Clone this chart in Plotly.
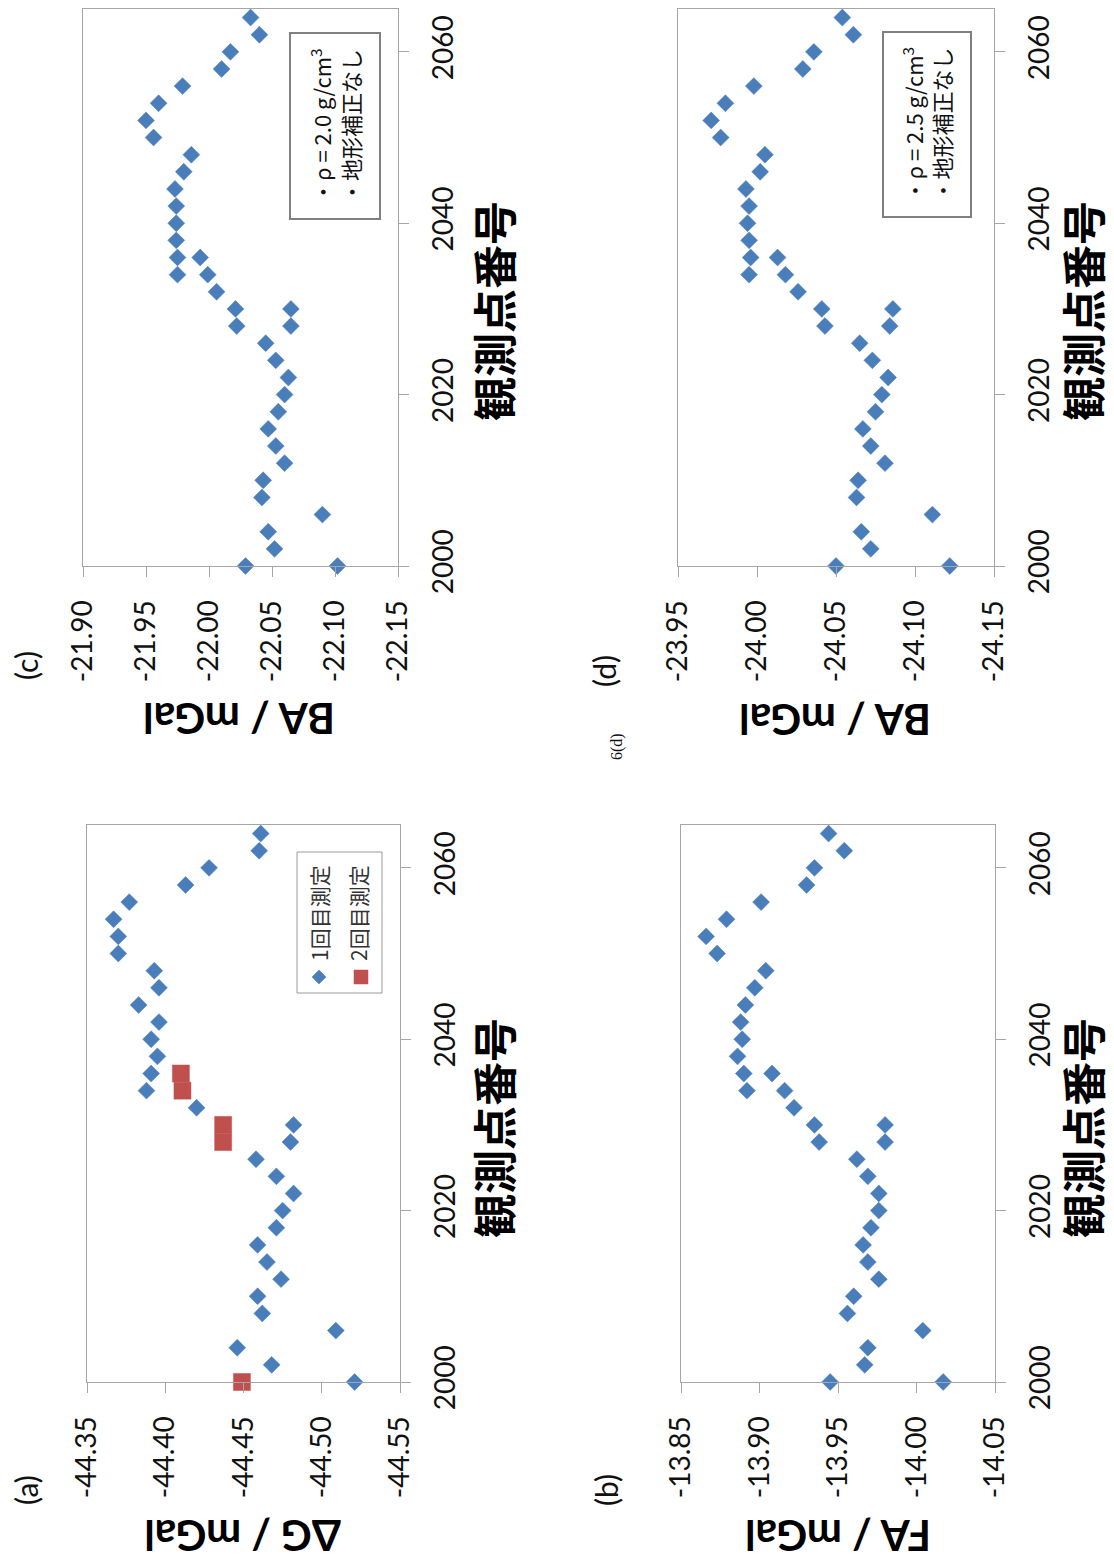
import plotly.graph_objects as go

# page body has an 8px margin; the figure is sized to fill the rest of the window
OFF = 8
W, H = 1114 - OFF, 1562 - OFF

# ---------------- data ----------------
stations_1 = [2000, 2002, 2004, 2006, 2008, 2010, 2012, 2014, 2016, 2018, 2020,
              2022, 2024, 2026, 2028, 2030, 2032, 2034, 2036, 2038, 2040, 2042,
              2044, 2046, 2048, 2050, 2052, 2054, 2056, 2058, 2060, 2062, 2064]
stations_2 = [2000, 2028, 2030, 2034, 2036]

dG_1 = [-44.521, -44.468, -44.446, -44.509, -44.462, -44.459, -44.474, -44.465,
        -44.459, -44.471, -44.475, -44.482, -44.471, -44.458, -44.480, -44.482,
        -44.420, -44.388, -44.391, -44.395, -44.391, -44.396, -44.383, -44.396,
        -44.393, -44.370, -44.370, -44.367, -44.377, -44.413, -44.428, -44.460,
        -44.461]
dG_2 = [-44.449, -44.437, -44.437, -44.411, -44.410]

FA_1 = [-14.017, -13.967, -13.969, -14.004, -13.956, -13.960, -13.976, -13.969,
        -13.966, -13.971, -13.976, -13.976, -13.969, -13.962, -13.980, -13.980,
        -13.922, -13.892, -13.890, -13.886, -13.889, -13.888, -13.891, -13.897,
        -13.904, -13.873, -13.866, -13.879, -13.901, -13.930, -13.935, -13.954,
        -13.944]
FA_2 = [-13.945, -13.938, -13.935, -13.916, -13.908]

BA20_1 = [-22.102, -22.052, -22.047, -22.090, -22.042, -22.043, -22.060, -22.053,
          -22.047, -22.055, -22.060, -22.063, -22.053, -22.045, -22.065, -22.065,
          -22.006, -21.975, -21.975, -21.974, -21.974, -21.974, -21.973, -21.980,
          -21.986, -21.956, -21.950, -21.960, -21.979, -22.010, -22.017, -22.040,
          -22.033]
BA20_2 = [-22.029, -22.022, -22.021, -21.999, -21.993]

BA25_1 = [-24.122, -24.072, -24.066, -24.111, -24.063, -24.064, -24.081, -24.072,
          -24.067, -24.075, -24.079, -24.083, -24.073, -24.065, -24.084, -24.086,
          -24.026, -23.995, -23.996, -23.995, -23.994, -23.995, -23.993, -24.002,
          -24.005, -23.977, -23.971, -23.980, -23.998, -24.029, -24.036, -24.061,
          -24.054]
BA25_2 = [-24.050, -24.043, -24.041, -24.018, -24.013]

station_ticks = [2000, 2020, 2040, 2060]
station_range = [2000, 2065]

dG_ticks = [-44.35, -44.40, -44.45, -44.50, -44.55]
dG_ticktext = ["-44.35", "-44.40", "-44.45", "-44.50", "-44.55"]
FA_ticks = [-13.85, -13.90, -13.95, -14.00, -14.05]
FA_ticktext = ["-13.85", "-13.90", "-13.95", "-14.00", "-14.05"]
BA20_ticks = [-21.90, -21.95, -22.00, -22.05, -22.10, -22.15]
BA20_ticktext = ["-21.90", "-21.95", "-22.00", "-22.05", "-22.10", "-22.15"]
BA25_ticks = [-23.95, -24.00, -24.05, -24.10, -24.15]
BA25_ticktext = ["-23.95", "-24.00", "-24.05", "-24.10", "-24.15"]

legend_labels = ["1回目測定", "2回目測定"]
xlabel = "観測点番号"

# ---------------- helpers (window pixel -> paper fraction) ----------------
def fx(px):
    return (px - OFF) / W


def fy(py):
    return 1 - (py - OFF) / H


BLUE = "#4a7ebb"
RED = "#c0504d"
AXC = "#a6a6a6"
TICKFONT = dict(family="Lato", size=28, color="#111")

panels = [
    dict(x=(87, 400), y=(825, 1382), v1=dG_1, v2=dG_2, c2=RED, s2="square",
         rng=[-44.35, -44.55], tv=dG_ticks, tt=dG_ticktext,
         title="ΔG / mGal", title_xy=(243, 1536), lab="(a)", lab_xy=(26, 1490),
         xl_xy=(493, 1128)),
    dict(x=(681, 995), y=(825, 1382), v1=FA_1, v2=FA_2, c2=BLUE, s2="diamond",
         rng=[-13.85, -14.05], tv=FA_ticks, tt=FA_ticktext,
         title="FA / mGal", title_xy=(838, 1536), lab="(b)", lab_xy=(606, 1490),
         xl_xy=(1082, 1128)),
    dict(x=(83, 398), y=(9, 566), v1=BA20_1, v2=BA20_2, c2=BLUE, s2="diamond",
         rng=[-21.90, -22.15], tv=BA20_ticks, tt=BA20_ticktext,
         title="BA / mGal", title_xy=(239, 719), lab="(c)", lab_xy=(26, 666),
         xl_xy=(493, 311)),
    dict(x=(678, 994), y=(9, 566), v1=BA25_1, v2=BA25_2, c2=BLUE, s2="diamond",
         rng=[-23.95, -24.15], tv=BA25_ticks, tt=BA25_ticktext,
         title="BA / mGal", title_xy=(835, 720), lab="(d)", lab_xy=(604, 671),
         xl_xy=(1082, 311)),
]

fig = go.Figure()
annotations = []
shapes = []

for i, p in enumerate(panels, start=1):
    xa = "x" if i == 1 else f"x{i}"
    ya = "y" if i == 1 else f"y{i}"
    fig.add_trace(go.Scatter(
        x=p["v1"], y=stations_1, mode="markers", xaxis=xa, yaxis=ya,
        marker=dict(symbol="diamond", size=13, color=BLUE,
                    line=dict(color=BLUE, width=0.5)),
        cliponaxis=False, showlegend=False, name=legend_labels[0]))
    fig.add_trace(go.Scatter(
        x=p["v2"], y=stations_2, mode="markers", xaxis=xa, yaxis=ya,
        marker=dict(symbol=p["s2"], size=17 if p["s2"] == "square" else 13,
                    color=p["c2"], line=dict(color=p["c2"], width=0.5)),
        cliponaxis=False, showlegend=False, name=legend_labels[1]))

    xkey = "xaxis" if i == 1 else f"xaxis{i}"
    ykey = "yaxis" if i == 1 else f"yaxis{i}"
    fig.update_layout({
        xkey: dict(domain=[fx(p["x"][0]), fx(p["x"][1])], range=p["rng"],
                   autorange=False, automargin=False, tickmode="array",
                   tickvals=p["tv"], ticktext=p["tt"], tickangle=-90,
                   ticks="outside", ticklen=10, tickcolor=AXC, showline=True,
                   linecolor=AXC, linewidth=1, mirror=True, showgrid=False,
                   zeroline=False, anchor=ya, tickfont=TICKFONT,
                   ticklabelstandoff=12, fixedrange=True),
        ykey: dict(domain=[fy(p["y"][1]), fy(p["y"][0])], range=station_range,
                   autorange=False, automargin=False, tickmode="array",
                   tickvals=station_ticks,
                   ticktext=[str(t) for t in station_ticks], tickangle=-90,
                   side="right", ticks="outside", ticklen=10, tickcolor=AXC,
                   showline=True, linecolor=AXC, linewidth=1, mirror=True,
                   showgrid=False, zeroline=False, anchor=xa, tickfont=TICKFONT,
                   ticklabelstandoff=10, fixedrange=True),
    })

    annotations.append(dict(
        x=fx(p["title_xy"][0]), y=fy(p["title_xy"][1]), xref="paper", yref="paper",
        text=p["title"], showarrow=False, textangle=180, xanchor="center",
        yanchor="middle",
        font=dict(family="Lato", size=42, color="#000", weight="bold")))
    annotations.append(dict(
        x=fx(p["xl_xy"][0]), y=fy(p["xl_xy"][1]), xref="paper", yref="paper",
        text=xlabel, showarrow=False, textangle=-90, xanchor="center",
        yanchor="middle",
        font=dict(family="Noto Sans CJK JP", size=44, color="#000", weight="bold")))
    annotations.append(dict(
        x=fx(p["lab_xy"][0]), y=fy(p["lab_xy"][1]), xref="paper", yref="paper",
        text=p["lab"], showarrow=False, textangle=-90, xanchor="center",
        yanchor="middle", font=dict(family="Lato", size=30, color="#111")))

# small caption
annotations.append(dict(
    x=fx(617), y=fy(747), xref="paper", yref="paper", text="6(d)",
    showarrow=False, textangle=-90, xanchor="center", yanchor="middle",
    font=dict(family="Liberation Serif", size=16, color="#111")))

# legend for (a)
shapes.append(dict(type="rect", xref="paper", yref="paper",
                   x0=fx(297), x1=fx(382), y0=fy(993), y1=fy(852),
                   line=dict(color="#9a9a9a", width=1), fillcolor="white"))
dx, dy = 7, 7
cx, cy = 319, 977
diamond_path = (f"M {fx(cx)} {fy(cy - dy)} L {fx(cx + dx)} {fy(cy)} "
                f"L {fx(cx)} {fy(cy + dy)} L {fx(cx - dx)} {fy(cy)} Z")
shapes.append(dict(type="path", xref="paper", yref="paper", path=diamond_path,
                   fillcolor=BLUE, line=dict(color=BLUE, width=0.5)))
shapes.append(dict(type="rect", xref="paper", yref="paper",
                   x0=fx(354), x1=fx(368), y0=fy(984), y1=fy(970),
                   fillcolor=RED, line=dict(color=RED, width=0.5)))
for lx, txt in zip([319, 358], legend_labels):
    annotations.append(dict(
        x=fx(lx), y=fy(913), xref="paper", yref="paper", text=txt,
        showarrow=False, textangle=-90, xanchor="center", yanchor="middle",
        font=dict(family="Noto Sans CJK JP", size=21, color="#333")))

# condition boxes for (c) and (d)
box_texts = ["・ρ = 2.0 g/cm<sup>3</sup><br>・地形補正なし",
             "・ρ = 2.5 g/cm<sup>3</sup><br>・地形補正なし"]
boxes = [(290, 380, 33, 219), (883, 971, 32, 217)]
for (x0, x1, y0, y1), txt in zip(boxes, box_texts):
    shapes.append(dict(type="rect", xref="paper", yref="paper",
                       x0=fx(x0), x1=fx(x1), y0=fy(y1), y1=fy(y0),
                       line=dict(color="#808080", width=2), fillcolor="white",
                       layer="above"))
    annotations.append(dict(
        x=fx((x0 + x1) / 2), y=fy((y0 + y1) / 2), xref="paper", yref="paper",
        text=txt, showarrow=False, textangle=-90, xanchor="center",
        yanchor="middle", align="left",
        font=dict(family="Noto Sans CJK JP", size=22, color="#111")))

fig.update_layout(
    width=W, height=H, margin=dict(l=0, r=0, t=0, b=0),
    paper_bgcolor="white", plot_bgcolor="white",
    showlegend=False, annotations=annotations, shapes=shapes,
)

fig.write_html("out.html")
